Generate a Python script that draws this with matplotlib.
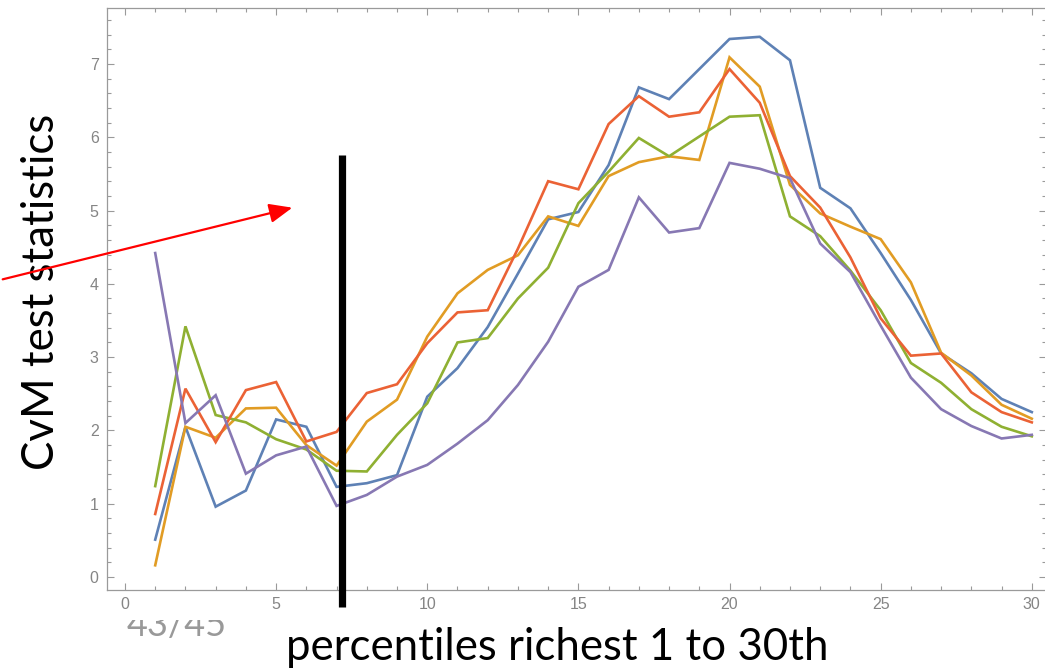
import matplotlib
matplotlib.use("Agg")
import matplotlib.pyplot as plt
from matplotlib.patches import FancyArrowPatch, Rectangle
from matplotlib.ticker import MultipleLocator

# percentile index (richest 1st .. 30th)
percentiles = list(range(1, 31))

blue = [0.51, 2.05, 0.96, 1.18, 2.15, 2.05, 1.23, 1.28, 1.39, 2.46,
        2.85, 3.41, 4.14, 4.88, 4.98, 5.62, 6.68, 6.52, 6.93, 7.34,
        7.37, 7.05, 5.31, 5.03, 4.42, 3.78, 3.05, 2.78, 2.43, 2.25]
orange = [0.16, 2.05, 1.90, 2.30, 2.31, 1.80, 1.52, 2.12, 2.42, 3.28,
          3.87, 4.19, 4.39, 4.92, 4.79, 5.47, 5.66, 5.74, 5.69, 7.09,
          6.69, 5.35, 4.96, 4.78, 4.61, 4.02, 3.06, 2.75, 2.35, 2.16]
green = [1.24, 3.42, 2.21, 2.11, 1.88, 1.74, 1.45, 1.44, 1.94, 2.37,
         3.20, 3.26, 3.80, 4.22, 5.10, 5.53, 5.99, 5.74, 6.01, 6.28,
         6.30, 4.92, 4.65, 4.18, 3.64, 2.92, 2.65, 2.29, 2.05, 1.92]
red = [0.86, 2.57, 1.84, 2.55, 2.66, 1.85, 1.98, 2.51, 2.63, 3.19,
       3.61, 3.64, 4.48, 5.40, 5.29, 6.18, 6.56, 6.28, 6.34, 6.93,
       6.47, 5.47, 5.04, 4.36, 3.53, 3.02, 3.05, 2.52, 2.25, 2.11]
purple = [4.42, 2.10, 2.48, 1.41, 1.66, 1.78, 0.97, 1.12, 1.37, 1.53,
          1.82, 2.14, 2.62, 3.21, 3.96, 4.19, 5.18, 4.70, 4.76, 5.65,
          5.57, 5.44, 4.55, 4.16, 3.43, 2.72, 2.29, 2.06, 1.89, 1.94]

series = [blue, orange, green, red, purple]
colors = ["#5E81B5", "#E19C24", "#8FB032", "#EB6235", "#8778B3"]

cutoff = 7.18  # vertical marker on the percentile axis

W, H = 1045, 669
fig = plt.figure(figsize=(W / 100, H / 100), dpi=100)
fig.patch.set_facecolor("white")

ax = fig.add_axes([107 / W, 1 - 590 / H, (1046 - 107) / W, 582 / H])
ax.set_zorder(2)

for vals, c in zip(series, colors):
    ax.plot(percentiles, vals, color=c, lw=1.9, solid_joinstyle="miter")

ax.plot([cutoff, cutoff], [-0.41, 5.76], color="black", lw=5.2,
        solid_capstyle="butt", clip_on=False, zorder=5)

ax.set_xlim(-0.595, 30.47)
ax.set_ylim(-0.177, 7.763)

ax.xaxis.set_major_locator(MultipleLocator(5))
ax.xaxis.set_minor_locator(MultipleLocator(1))
ax.yaxis.set_major_locator(MultipleLocator(1))
ax.yaxis.set_minor_locator(MultipleLocator(0.2))

grey = "#9a9a9a"
for s in ax.spines.values():
    s.set_color(grey)
    s.set_linewidth(0.9)
ax.tick_params(which="both", direction="in", top=True, right=True,
               color=grey, width=0.8, labelcolor="#858585",
               labelsize=11.5)
ax.tick_params(which="major", length=5)
ax.tick_params(which="minor", length=3)
ax.tick_params(axis="x", pad=5)
ax.tick_params(axis="y", pad=6)
for lab in ax.get_xticklabels() + ax.get_yticklabels():
    lab.set_family("Liberation Sans")

# slide page number, partly hidden behind the plot
fig.text(127 / W, 1 - 636 / H, "43/45", fontsize=26, color="#999999",
         family="Lato", ha="left", va="baseline", zorder=1)
fig.add_artist(Rectangle((90 / W, 1 - 620 / H), (W - 90) / W, 620 / H,
                         transform=fig.transFigure, facecolor="white",
                         edgecolor="none", zorder=1.5))

fig.text(42 / W, 1 - 292 / H, "CvM test statistics", rotation=90,
         fontsize=31.5, family="Lato", ha="center", va="center", zorder=3)
fig.text(557 / W, 1 - 660 / H, "percentiles richest 1 to 30th",
         fontsize=31.5, family="Lato", ha="center", va="baseline", zorder=3)

arrow = FancyArrowPatch((0, 1 - 280 / H), (295 / W, 1 - 207 / H),
                        transform=fig.transFigure,
                        arrowstyle="-|>,head_length=1.0,head_width=0.42",
                        mutation_scale=14, color="#ff0000", lw=1.6,
                        zorder=4)
fig.add_artist(arrow)

fig.savefig("out.png", dpi=100, facecolor="white")
